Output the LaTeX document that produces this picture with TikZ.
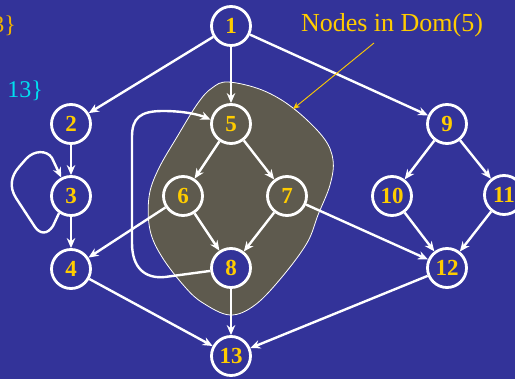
\documentclass[tikz,border=0pt]{standalone}
\usepackage{fontspec}
\setmainfont{Liberation Serif}
\usetikzlibrary{arrows.meta}
\definecolor{bgblue}{HTML}{333399}
\definecolor{blobfill}{HTML}{5E5A4E}
\definecolor{gold}{HTML}{FFCC00}
\definecolor{orangegold}{HTML}{F2B400}
\definecolor{cyantxt}{HTML}{00E0F0}
\begin{document}
\begin{tikzpicture}[x=1pt,y=-1pt,
  vtx/.style={circle, draw=white, line width=2.8pt, minimum size=39pt, inner sep=0pt,
    font=\fontsize{23}{23}\selectfont\bfseries, text=gold},
  edge/.style={draw=white, line width=2.4pt, -{Stealth[length=10pt,width=8.5pt]}},
  pointer/.style={draw=gold, line width=0.9pt, -{Stealth[length=7pt,width=6pt]}},
  cuttext/.style={font=\fontsize{24}{24}\selectfont, inner sep=0pt, anchor=base east}]
\useasboundingbox (0,0) rectangle (515,379);
\clip (0,0) rectangle (515,379);
\fill[bgblue] (0,0) rectangle (515,379);
% dominator region
\draw[white, line width=0.8pt, fill=blobfill] plot[smooth cycle, tension=0.6] coordinates {
 (228,82) (262,90) (293,108) (323,137) (333,160) (330,185) (318,215) (307,243)
 (282,277) (255,305) (230,315) (203,303) (185,287) (162,257) (150,230) (149,197)
 (158,170) (177,137) (198,103) (212,88)};
% cut-off texts
\node[cuttext, text=orangegold] (t1) at (16,33) {3\}};
\node[cuttext, text=cyantxt] (t2) at (43,98) {13\}};
% nodes
\node[vtx, fill=bgblue] (n1) at (231,26) {1};
\node[vtx, fill=bgblue] (n2) at (71,124) {2};
\node[vtx, fill=bgblue] (n3) at (71,196) {3};
\node[vtx, fill=bgblue] (n4) at (71,269) {4};
\node[vtx] (n5) at (231,124) {5};
\node[vtx] (n6) at (183,196) {6};
\node[vtx] (n7) at (287,196) {7};
\node[vtx, fill=bgblue] (n8) at (231,268) {8};
\node[vtx, fill=bgblue] (n9) at (447,124) {9};
\node[vtx, fill=bgblue] (n10) at (392,196) {10};
\node[vtx, fill=bgblue] (n11) at (504,195) {11};
\node[vtx, fill=bgblue] (n12) at (447,268) {12};
\node[vtx, fill=bgblue] (n13) at (231,356) {13};
% edges
\draw[edge] (n1) -- (n2);
\draw[edge] (n1) -- (n5);
\draw[edge] (n1) -- (n9);
\draw[edge] (n2) -- (n3);
\draw[edge] (n3) -- (n4);
\draw[edge] (n5) -- (n6);
\draw[edge] (n5) -- (n7);
\draw[edge] (n6) -- (n4);
\draw[edge] (n6) -- (n8);
\draw[edge] (n7) -- (n8);
\draw[edge] (n7) -- (n12);
\draw[edge] (n8) -- (n13);
\draw[edge] (n4) -- (n13);
\draw[edge] (n12) -- (n13);
\draw[edge] (n9) -- (n10);
\draw[edge] (n9) -- (n11);
\draw[edge] (n10) -- (n12);
\draw[edge] (n11) -- (n12);
% self loop on 3
\draw[edge] (n3.235) -- (53,226) .. controls (47,235) and (40,234) .. (35,227)
  -- (16,198) .. controls (9,187) and (11,176) .. (19,167)
  -- (26,159) .. controls (34,150) and (47,150) .. (52,158) -- (n3.118);
% back edge 8 -> 5
\draw[edge] (n8.188) -- (165,277) .. controls (145,279) and (132,268) .. (132,243)
  -- (132,137) .. controls (132,118) and (140,111) .. (163,111)
  .. controls (185,111) and (200,115) .. (n5.168);
% label
\node[text=gold, font=\fontsize{26}{26}\selectfont, inner sep=0pt] (dom) at (392,25) {Nodes in Dom(5)};
\coordinate (ptrstart) at (374,43);
\coordinate (ptrend) at (293,109);
\draw[pointer] (ptrstart) -- (ptrend);
\end{tikzpicture}
\end{document}
